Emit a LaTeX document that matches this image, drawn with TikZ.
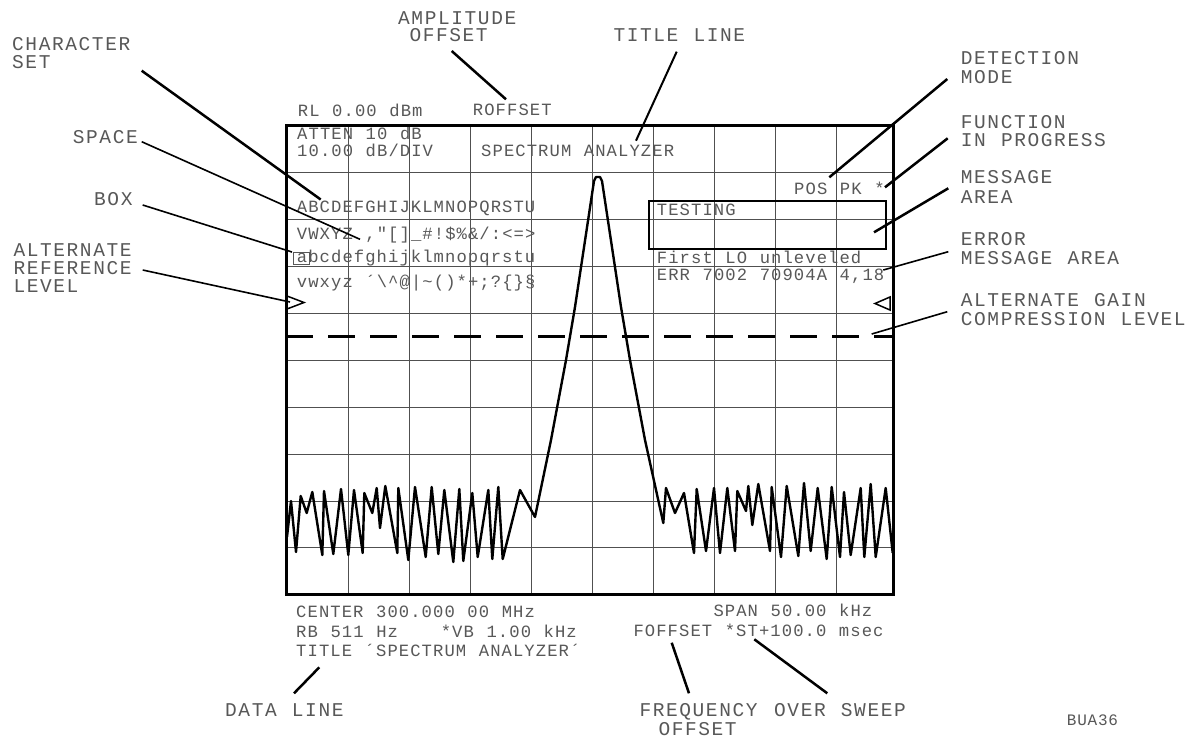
\documentclass[tikz,border=0pt]{standalone}
\usepackage{fontspec}
\newfontfamily\scrfont[LetterSpace=6.3,WordSpace=1.105]{Liberation Mono}
\newfontfamily\labfont[LetterSpace=8.2,WordSpace=1.137]{Liberation Mono}
\newfontfamily\idfont[LetterSpace=5]{Liberation Mono}
\definecolor{txtgray}{RGB}{88,88,88}
\definecolor{gridgray}{RGB}{80,80,80}
\tikzset{
  scrtxt/.style={anchor=base west, inner sep=0pt, text=txtgray, font=\scrfont\fontsize{17.2}{17.2}\selectfont},
  labtxt/.style={anchor=base west, inner sep=0pt, text=txtgray, font=\labfont\fontsize{19.5}{19.5}\selectfont},
  idtxt/.style={anchor=base west, inner sep=0pt, text=txtgray, font=\idfont\fontsize{16}{16}\selectfont},
  gridline/.style={draw=gridgray, line width=1pt},
  frameline/.style={draw=black, line width=3pt},
  trace/.style={draw=black, line width=2.4pt, line join=round},
  leadthick/.style={draw=black, line width=2.5pt},
  leadthin/.style={draw=black, line width=1.6pt},
  marker/.style={draw=black, line width=1.5pt, line join=miter},
}
\begin{document}
\begin{tikzpicture}[x=1pt,y=-1pt]
\useasboundingbox (0,0) rectangle (1195,740);
\fill[white] (0,0) rectangle (1195,740);
% graticule
\foreach \gx in {348,409,470.5,531.5,592.5,653,714,775,836}
  \draw[gridline] (\gx,125) -- (\gx,594.5);
\foreach \gy in {172.7,219.5,266.5,313.5,360.5,407.5,454.3,501,547.7}
  \draw[gridline] (286,\gy) -- (893,\gy);
% screen text
\node[scrtxt] (rl) at (297.7,116.7) {RL 0.00 dBm};
\node[scrtxt] (roffset) at (472.7,115.5) {ROFFSET};
\node[scrtxt] (atten) at (297,139.5) {ATTEN 10 dB};
\node[scrtxt] (scale) at (297,156.7) {10.00 dB/DIV};
\node[scrtxt] (title) at (481,156.7) {SPECTRUM ANALYZER};
\node[scrtxt] (pospk) at (794,194.3) {POS PK *};
\node[scrtxt] (testing) at (656.7,215) {TESTING};
\node[scrtxt] (first) at (656.7,263.3) {First LO unleveled};
\node[scrtxt] (err) at (656.7,280) {ERR 7002 70904A 4,18};
\node[scrtxt] (cs1) at (296.7,212.8) {ABCDEFGHIJKLMNOPQRSTU};
\node[scrtxt] (cs2) at (296.7,239.5) {VWXYZ ,"[]\_\#!\$\%\&/:<=>};
\node[scrtxt] (cs3) at (296.7,262.5) {abcdefghijklmnopqrstu};
\node[scrtxt] (cs4) at (296.7,287) {vwxyz ´\textbackslash\textasciicircum@|\textasciitilde()*+;?\{\}§};
\node[scrtxt] (center) at (296,617.7) {CENTER 300.000 00 MHz};
\node[scrtxt] (rb) at (296,637.7) {RB 511 Hz\hspace{3.4\fontdimen2\font}*VB 1.00 kHz};
\node[scrtxt] (titlecmd) at (296,656.7) {TITLE ´SPECTRUM ANALYZER´};
\node[scrtxt] (span) at (713.3,616.7) {SPAN 50.00 kHz};
\node[scrtxt] (foffset) at (633.3,636.7) {FOFFSET *ST+100.0 msec};
% box round 'a'
\draw[draw=txtgray, line width=0.8pt] (293.3,252.7) rectangle (309,264);
% message area box
\draw[draw=black, line width=2pt] (649.3,200.7) rectangle (885.7,249.3);
% reference level markers
\draw[marker] (287,296) -- (304,302.5) -- (287,309) -- cycle;
\draw[marker] (890,297) -- (875,303.5) -- (890,310) -- cycle;
% gain compression level
\draw[draw=black, line width=3pt, dash pattern=on 27pt off 15pt, dash phase=-0.3pt] (286,336.7) -- (893,336.7);
% trace
\draw[trace] (287,537) -- (291,501) -- (296,552) -- (300.7,496) -- (306.7,513) -- (312.3,492) -- (322.3,555) -- (324,491) -- (333.3,554) -- (341,489) -- (348.3,555) -- (354,490) -- (362.7,553) -- (364.3,493) -- (372.3,513) -- (376.7,488) -- (380,528) -- (385.3,486) -- (397.3,553) -- (398.3,488) -- (408.3,560) -- (415,487) -- (425.7,557) -- (431.7,487) -- (438.3,554) -- (444.3,490) -- (453.3,562) -- (459.3,489) -- (463.3,561) -- (472.3,493) -- (477.7,557) -- (488.3,490) -- (492.3,559) -- (498.3,487) -- (502.7,559) -- (520,490) -- (535,517)
  -- (551,440) -- (566,360) -- (575,307) -- (594,181) -- (596,177) -- (600,177) -- (602,181) -- (621,307) -- (630,360) -- (645,440) -- (663.3,523)
  -- (666,488) -- (675,513) -- (684,493) -- (694,553) -- (696.7,489) -- (706,551) -- (714,488) -- (720,553) -- (727.3,488) -- (735,551) -- (737.3,491) -- (746,511) -- (748.3,486) -- (752.3,525) -- (758.3,484) -- (770,551) -- (771.7,487) -- (781,557) -- (786.7,486) -- (798.3,556) -- (804,483) -- (810.7,551) -- (817.7,488) -- (826.7,559) -- (831.7,487) -- (840,557) -- (844,492) -- (850.7,555) -- (860.7,488) -- (864.3,557) -- (870.7,484) -- (875.7,557) -- (885.7,488) -- (892.7,553);
% frame
\draw[frameline] (286,125) rectangle (893,594.5);
% labels
\node[labtxt] (amp1) at (398,24) {AMPLITUDE};
\node[labtxt] (amp2) at (409.3,41.7) {OFFSET};
\node[labtxt] (tl) at (613.3,41) {TITLE LINE};
\node[labtxt] (char1) at (12,50) {CHARACTER};
\node[labtxt] (char2) at (12,68.3) {SET};
\node[labtxt] (spacel) at (72.7,143.3) {SPACE};
\node[labtxt] (boxl) at (94,205) {BOX};
\node[labtxt] (alt1) at (13.3,256.3) {ALTERNATE};
\node[labtxt] (alt2) at (13.3,274.3) {REFERENCE};
\node[labtxt] (alt3) at (13.3,292.6) {LEVEL};
\node[labtxt] (det1) at (960.7,64.3) {DETECTION};
\node[labtxt] (det2) at (960.7,83.3) {MODE};
\node[labtxt] (fun1) at (960.7,128.3) {FUNCTION};
\node[labtxt] (fun2) at (960.7,146.7) {IN PROGRESS};
\node[labtxt] (msg1) at (960.7,183.3) {MESSAGE};
\node[labtxt] (msg2) at (960.7,203.3) {AREA};
\node[labtxt] (err1) at (960.7,245.7) {ERROR};
\node[labtxt] (err2) at (960.7,264) {MESSAGE AREA};
\node[labtxt] (gain1) at (960.7,306.7) {ALTERNATE GAIN};
\node[labtxt] (gain2) at (960.7,325) {COMPRESSION LEVEL};
\node[labtxt] (datal) at (225,716.7) {DATA LINE};
\node[labtxt] (freq1) at (639.3,716.3) {FREQUENCY};
\node[labtxt] (freq2) at (658.3,735.2) {OFFSET};
\node[labtxt] (sweep) at (774,716.3) {OVER SWEEP};
\node[idtxt] (bua) at (1066.7,725.7) {BUA36};
% leader end points
\coordinate (ampA) at (451.7,51);   \coordinate (ampB) at (506,99.3);
\coordinate (tlA) at (676.7,51.7);  \coordinate (tlB) at (636,140.7);
\coordinate (charA) at (141.7,70.7); \coordinate (charB) at (320.7,199.5);
\coordinate (spA) at (141.7,141.7); \coordinate (spB) at (360,239.3);
\coordinate (bxA) at (142.7,205);   \coordinate (bxB) at (292,252);
\coordinate (arA) at (142.7,270);   \coordinate (arB) at (290,302);
\coordinate (detA) at (947.3,79);   \coordinate (detB) at (829.3,177.3);
\coordinate (funA) at (947.7,138.3); \coordinate (funB) at (885,187.3);
\coordinate (msgA) at (948.3,188.3); \coordinate (msgB) at (874,232.3);
\coordinate (errA) at (948.3,251.7); \coordinate (errB) at (883.3,270);
\coordinate (gainA) at (947.3,311.7); \coordinate (gainB) at (871.7,334);
\coordinate (dataA) at (294,693.3); \coordinate (dataB) at (319.3,667.3);
\coordinate (freqA) at (689,693.3); \coordinate (freqB) at (671.7,642.7);
\coordinate (swA) at (827.3,693.3); \coordinate (swB) at (754.3,639.3);
% leaders
\draw[leadthick] (ampA) -- (ampB);
\draw[line width=2pt] (tlA) -- (tlB);
\draw[leadthick] (charA) -- (charB);
\draw[leadthin] (spA) -- (spB);
\draw[leadthin] (bxA) -- (bxB);
\draw[leadthin] (arA) -- (arB);
\draw[leadthick] (detA) -- (detB);
\draw[leadthick] (funA) -- (funB);
\draw[leadthick] (msgA) -- (msgB);
\draw[leadthin] (errA) -- (errB);
\draw[leadthin] (gainA) -- (gainB);
\draw[leadthick] (dataA) -- (dataB);
\draw[leadthick] (freqA) -- (freqB);
\draw[leadthick] (swA) -- (swB);
\end{tikzpicture}
\end{document}
